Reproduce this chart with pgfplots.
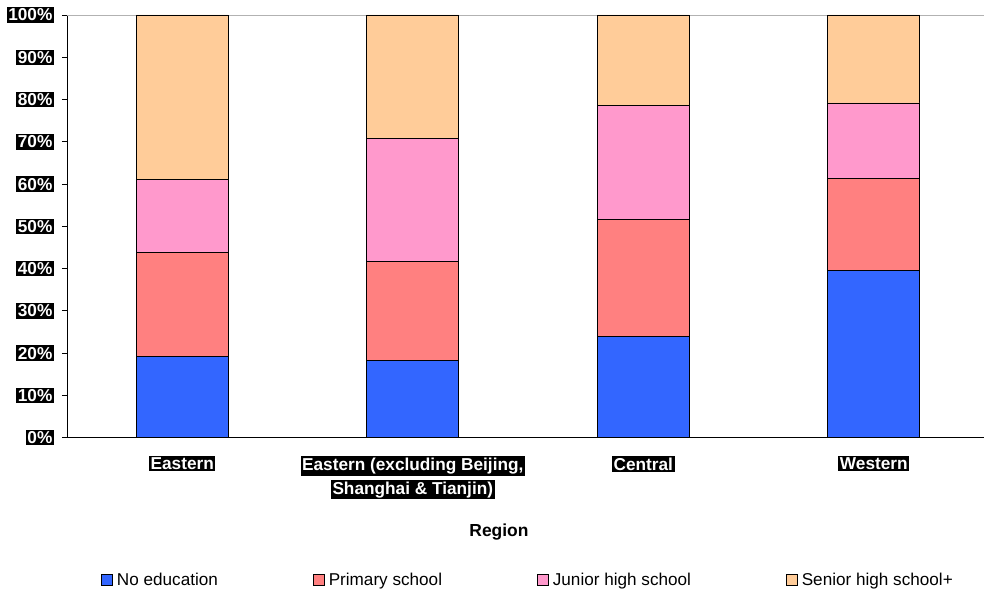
\documentclass[border=0pt]{standalone}
\usepackage{pgfplots}
\pgfplotsset{compat=1.18}
\usepackage{fontspec}
\setmainfont{Liberation Sans}

\definecolor{noedu}{HTML}{3366FF}
\definecolor{primary}{HTML}{FF8080}
\definecolor{junior}{HTML}{FF99CC}
\definecolor{senior}{HTML}{FFCC99}

% white bold text on a black band
\newcommand{\blk}[1]{{\setlength{\fboxsep}{1.6bp}\colorbox{black}{\textcolor{white}{\bfseries #1}}}}

\begin{document}
\begin{tikzpicture}
\begin{axis}[
  scale only axis,
  width=917bp, height=422.7bp,
  ybar stacked, bar width=92bp,
  xmin=-0.5, xmax=3.478,
  ymin=0, ymax=100,
  axis lines=left,
  axis line style={-, black, line width=0.8bp},
  xtick={0,1,2,3},
  xticklabels={
    {\blk{Eastern}},
    {\blk{Eastern (excluding Beijing,}\\\blk{Shanghai \& Tianjin)}},
    {\blk{Central}},
    {\blk{Western}}},
  x tick label style={font=\fontsize{17.3}{24}\selectfont, align=center, anchor=north, yshift=-10bp},
  major x tick style={draw=none},
  ytick={0,10,...,100},
  yticklabel={\blk{\pgfmathprintnumber[assume math mode=true]{\tick}\%}},
  y tick label style={font=\fontsize{17.3}{20}\selectfont, anchor=east, xshift=-4.5bp},
  tick align=outside,
  major tick length=5bp,
  major y tick style={black, line width=0.8bp},
  xlabel={\bfseries Region},
  xlabel style={font=\fontsize{17.5}{20}\selectfont, at={(axis description cs:0,0)}, anchor=center, xshift=432bp, yshift=-94.3bp},
  legend columns=4,
  legend style={at={(axis description cs:0,0)}, anchor=west, xshift=34bp, yshift=-142.3bp,
    draw=none, fill=none, inner sep=0pt,
    font=\fontsize{17.2}{20}\selectfont,
    nodes={inner sep=0pt, anchor=west},
    /tikz/every odd column/.append style={column sep=4bp},
    /tikz/every even column/.append style={column sep=95bp}},
  legend image code/.code={\draw[#1, draw=black, line width=0.8bp] (0bp,-5.5bp) rectangle (11bp,5.5bp);},
  every axis plot/.append style={draw=black, line width=0.8bp},
]
\addplot[fill=noedu] coordinates {(0,19.3) (1,18.2) (2,23.9) (3,39.5)};
\addplot[fill=primary] coordinates {(0,24.5) (1,23.5) (2,27.7) (3,21.9)};
\addplot[fill=junior] coordinates {(0,17.4) (1,29.1) (2,27.1) (3,17.8)};
\addplot[fill=senior] coordinates {(0,38.8) (1,29.2) (2,21.3) (3,20.8)};
\legend{No education, Primary school, Junior high school, Senior high school+}
% top border of the plot area
\draw[gray!60, line width=0.8bp] (rel axis cs:0,1) -- (rel axis cs:1,1);
\end{axis}
\pgfresetboundingbox
\useasboundingbox (-67bp,-154.3bp) rectangle (917bp,437.7bp);
\end{tikzpicture}
\end{document}
